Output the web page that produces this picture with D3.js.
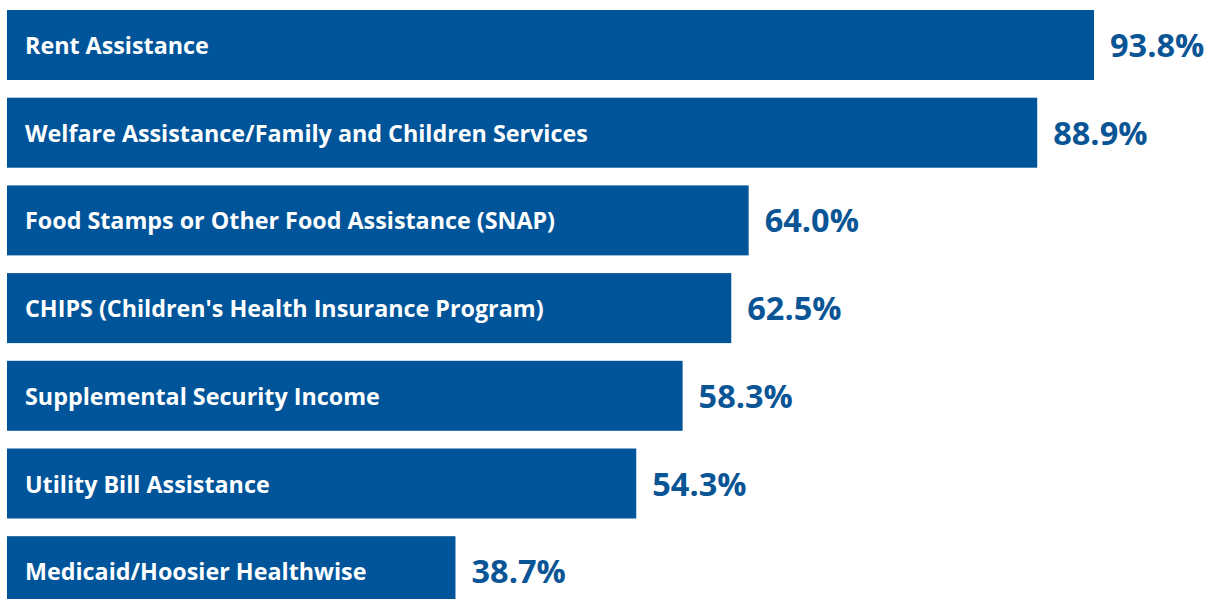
<!DOCTYPE html>
<html>
<head>
<meta charset="utf-8">
<script src="https://cdn.jsdelivr.net/npm/d3@7"></script>
<style>
  html, body { margin: 0; padding: 0; background: #fff; }
  svg { display: block; }
</style>
</head>
<body>
<svg id="chart" width="1213" height="599"></svg>
<script>
// Programs and share of respondents
const programs = [
  "Rent Assistance",
  "Welfare Assistance/Family and Children Services",
  "Food Stamps or Other Food Assistance (SNAP)",
  "CHIPS (Children's Health Insurance Program)",
  "Supplemental Security Income",
  "Utility Bill Assistance",
  "Medicaid/Hoosier Healthwise"
];
const shares = [93.8, 88.9, 64.0, 62.5, 58.3, 54.3, 38.7];

const barColor = "#00559A";
const valueColor = "#0A5595";

const svg = d3.select("#chart");

const x = d3.scaleLinear().domain([0, 93.8]).range([7, 1094]);

// 87.7px per row, 70px tall bars
const step = 87.7, inner = 17.7 / 87.7;
const y = d3.scaleBand()
  .domain(programs)
  .range([10, 10 + step * (programs.length - inner)])
  .paddingInner(inner)
  .paddingOuter(0);

const rows = svg.selectAll("g.row")
  .data(programs.map((p, i) => ({ name: p, value: shares[i] })))
  .join("g")
  .attr("class", "row")
  .attr("transform", d => `translate(0,${y(d.name)})`);

rows.append("rect")
  .attr("x", x(0))
  .attr("y", 0)
  .attr("width", d => x(d.value) - x(0))
  .attr("height", y.bandwidth())
  .attr("fill", barColor);

rows.append("text")
  .attr("x", 25)
  .attr("y", y.bandwidth() / 2 + 9)
  .attr("fill", "#fff")
  .attr("font-family", "'Open Sans', sans-serif")
  .attr("font-weight", 700)
  .attr("font-size", 23.3)
  .text(d => d.name);

rows.append("text")
  .attr("x", d => x(d.value) + 16)
  .attr("y", y.bandwidth() / 2 + 12)
  .attr("fill", valueColor)
  .attr("font-family", "'Open Sans', sans-serif")
  .attr("font-weight", 700)
  .attr("font-size", 32.5)
  .text(d => d.value.toFixed(1) + "%");
</script>
</body>
</html>
